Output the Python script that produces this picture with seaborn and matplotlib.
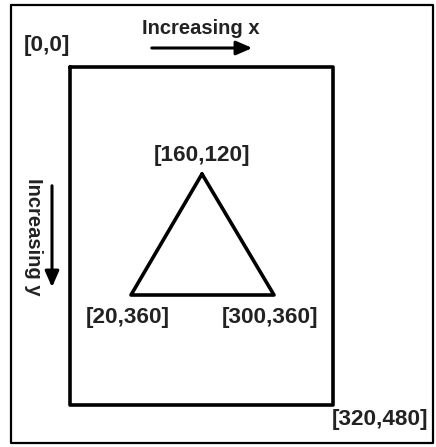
import matplotlib
matplotlib.use("Agg")
import matplotlib.pyplot as plt
import seaborn as sns
import pandas as pd

sns.set_theme(style="white")
plt.rcParams['font.family'] = ['Liberation Sans', 'DejaVu Sans']

# Labels (logical canvas coordinates)
vertex_labels = ["[160,120]", "[20,360]", "[300,360]"]
corner_labels = ["[0,0]", "[320,480]"]
axis_titles = ["Increasing x", "Increasing y"]

# Drawing positions (pixel space of the diagram)
tri_x = [202, 131, 274, 202]
tri_y = [174, 295, 295, 174]
rect_x = [70, 333, 333, 70, 70]
rect_y = [67, 67, 405, 405, 67]

fig = plt.figure(figsize=(4.36, 4.47), dpi=100)
ax = fig.add_axes([0, 0, 1, 1])
ax.set_xlim(0, 436)
ax.set_ylim(447, 0)
ax.axis("off")

# outer frame
frame = pd.DataFrame({"x": [11, 433, 433, 11, 11], "y": [5, 5, 443, 443, 5]})
sns.lineplot(data=frame, x="x", y="y", sort=False, color="black", linewidth=1.6, ax=ax, estimator=None)

rect = pd.DataFrame({"x": rect_x, "y": rect_y})
sns.lineplot(data=rect, x="x", y="y", sort=False, color="black", linewidth=2.6, ax=ax, estimator=None)

tri = pd.DataFrame({"x": tri_x, "y": tri_y})
sns.lineplot(data=tri, x="x", y="y", sort=False, color="black", linewidth=2.6, ax=ax, estimator=None)

tk = dict(fontsize=14.5, fontweight="bold", color="#222222", ha="center", va="center")
ck = dict(fontsize=16.2, fontweight="bold", color="#222222", ha="center", va="center")

ax.text(201, 28, axis_titles[0], **tk)
ax.annotate("", xy=(255, 48), xytext=(149, 48),
            arrowprops=dict(arrowstyle="-|>,head_length=0.8,head_width=0.35", color="black", lw=2.2))
ax.text(33, 237, axis_titles[1], rotation=-90, rotation_mode="anchor", **tk)
ax.annotate("", xy=(52, 290), xytext=(52, 183),
            arrowprops=dict(arrowstyle="-|>,head_length=0.8,head_width=0.35", color="black", lw=2.2))

ax.text(47, 46, corner_labels[0], **ck)
ax.text(380, 420, corner_labels[1], **ck)
ax.text(202, 156, vertex_labels[0], **ck)
ax.text(128, 317, vertex_labels[1], **ck)
ax.text(270, 317, vertex_labels[2], **ck)

fig.savefig("out.png", dpi=100)
